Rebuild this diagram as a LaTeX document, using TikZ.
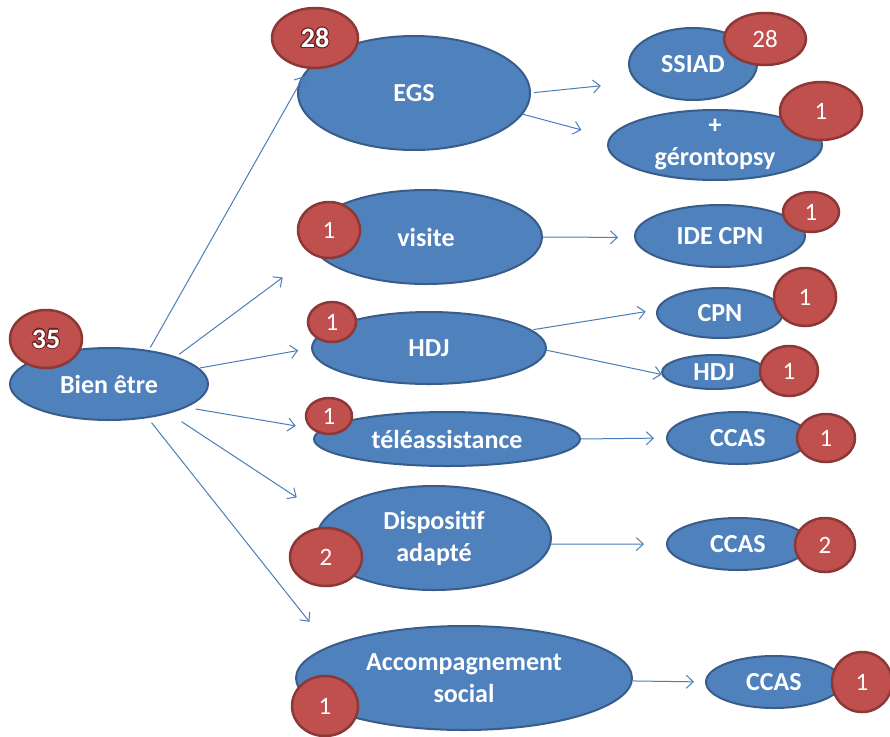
\documentclass[tikz,border=0pt]{standalone}
\usepackage{fontspec}
\setmainfont{Carlito}
\usetikzlibrary{arrows.meta,shapes.geometric}
\definecolor{blobfill}{HTML}{4F81BD}
\definecolor{blobline}{HTML}{385D8A}
\definecolor{badgefill}{HTML}{C0504D}
\definecolor{badgeline}{HTML}{8C3836}
\definecolor{arrowc}{HTML}{4A7EBB}
\definecolor{numline}{HTML}{6A2220}
\newcommand\ocopy[3]{\rlap{\kern#1\raisebox{#2}{\textcolor{numline}{#3}}}}
\newcommand\outl[1]{\leavevmode\ocopy{1.2pt}{0pt}{#1}\ocopy{-1.2pt}{0pt}{#1}\ocopy{0pt}{1.2pt}{#1}\ocopy{0pt}{-1.2pt}{#1}\ocopy{.85pt}{.85pt}{#1}\ocopy{-.85pt}{.85pt}{#1}\ocopy{.85pt}{-.85pt}{#1}\ocopy{-.85pt}{-.85pt}{#1}#1}
\tikzset{
  blobtext/.style={text=white, font=\fontsize{26}{32}\selectfont\bfseries, align=center, inner sep=0pt},
  blob/.style={ellipse, fill=blobfill, draw=blobline, line width=2pt, inner sep=0pt, outer sep=0pt, blobtext},
  badge/.style={ellipse, fill=badgefill, draw=badgeline, line width=2.5pt, inner sep=0pt, outer sep=0pt, text=white, font=\fontsize{25}{28}\selectfont},
  bigbadge/.style={badge, font=\fontsize{28}{30}\selectfont\bfseries},
  sz/.style 2 args={minimum width=#1pt, minimum height=#2pt},
  link/.style={draw=arrowc, line width=1pt, -{Straight Barb[length=7pt,width=13pt,line width=1pt]}}
}
\begin{document}
\begin{tikzpicture}[x=1pt,y=-1pt]
\useasboundingbox[fill=white] (0,0) rectangle (890,736);
% main nodes
\node[blob, sz={198}{72}] (bien) at (109,384) {Bien être};
\node[blob, sz={232}{114}] (egs) at (414,93) {EGS};
\node[blob, sz={232}{94}] (visite) at (426,237) {visite};
\node[blob, sz={234}{72}] (hdj) at (429,348) {HDJ};
\node[blob, sz={266}{54}] (tele) at (447,439) {téléassistance};
\node[blob, sz={234}{104}] (disp) at (434,538) {Dispositif\\adapté};
\node[blob, sz={336}{104}] (acc) at (464,678) {Accompagnement\\social};
% right nodes
\node[blob, sz={128}{72}] (ssiad) at (693,64) {SSIAD};
\node[blob, sz={214}{70}, label={[blobtext]center:{+\\gérontopsy}}] (geronto) at (715,145) {};
\node[blob, sz={170}{62}] (ide) at (720,236) {IDE CPN};
\node[blob, sz={126}{50}] (cpn) at (720,313) {CPN};
\node[blob, sz={104}{34}] (hdjs) at (714,372) {HDJ};
\node[blob, sz={142}{52}] (ccasa) at (738,438) {CCAS};
\node[blob, sz={142}{52}] (ccasb) at (738,544) {CCAS};
\node[blob, sz={136}{52}] (ccasc) at (774,682) {CCAS};
% badges
\node[bigbadge, sz={72}{58}] (nbien) at (46,339) {\outl{35}};
\node[bigbadge, sz={86}{60}] (negs) at (315,38) {\outl{28}};
\node[badge, sz={62}{56}] (nvisite) at (329,230) {1};
\node[badge, sz={48}{40}] (nhdj) at (332,322) {1};
\node[badge, sz={46}{36}] (ntele) at (329,416) {1};
\node[badge, sz={72}{58}] (ndisp) at (326,557) {2};
\node[badge, sz={66}{60}] (nacc) at (325,706) {1};
\node[badge, sz={82}{52}] (nssiad) at (765,39) {28};
\node[badge, sz={82}{58}] (ngeronto) at (821,111) {1};
\node[badge, sz={56}{40}] (nide) at (811,212) {1};
\node[badge, sz={62}{58}] (ncpn) at (805,297) {1};
\node[badge, sz={58}{50}] (nhdjs) at (789,371) {1};
\node[badge, sz={58}{48}] (nccasa) at (826,438) {1};
\node[badge, sz={60}{54}] (nccasb) at (825,545) {2};
\node[badge, sz={60}{60}] (nccasc) at (862,682) {1};
% connectors
\draw[link, shorten <=4pt, shorten >=5pt] (bien.40) -- (egs.169.6);
\draw[link, shorten <=5pt, shorten >=42pt] (bien.22) -- (visite.188);
\draw[link, shorten <=2pt, shorten >=14pt] (bien.10) -- (hdj.180);
\draw[link, shorten <=11pt, shorten >=26pt] (bien.-17) -- (tele.176);
\draw[link, shorten <=16pt, shorten >=36pt] (bien.-26) -- (disp.169);
\draw[link, shorten <=7pt, shorten >=32pt] (bien.-41.5) -- (acc.167);
\draw[link, shorten <=4pt, shorten >=37pt] (egs.0) -- (ssiad.198);
\draw[link, shorten <=1pt, shorten >=30pt] (egs.-11) -- (geronto.176);
\draw[link, shorten <=1pt, shorten >=17pt] (visite.0) -- (ide.181);
\draw[link, shorten <=3pt, shorten >=12pt] (hdj.10) -- (cpn.177);
\draw[link, shorten <=1pt, shorten >=1pt] (hdj.-1) -- (hdjs.183);
\draw[link, shorten <=1pt, shorten >=13pt] (tele.0) -- (ccasa.180);
\draw[link, shorten <=1pt, shorten >=23pt] (disp.-3) -- (ccasb.180);
\draw[link, shorten <=1pt, shorten >=12pt] (acc.-1) -- (ccasc.180);
\end{tikzpicture}
\end{document}
